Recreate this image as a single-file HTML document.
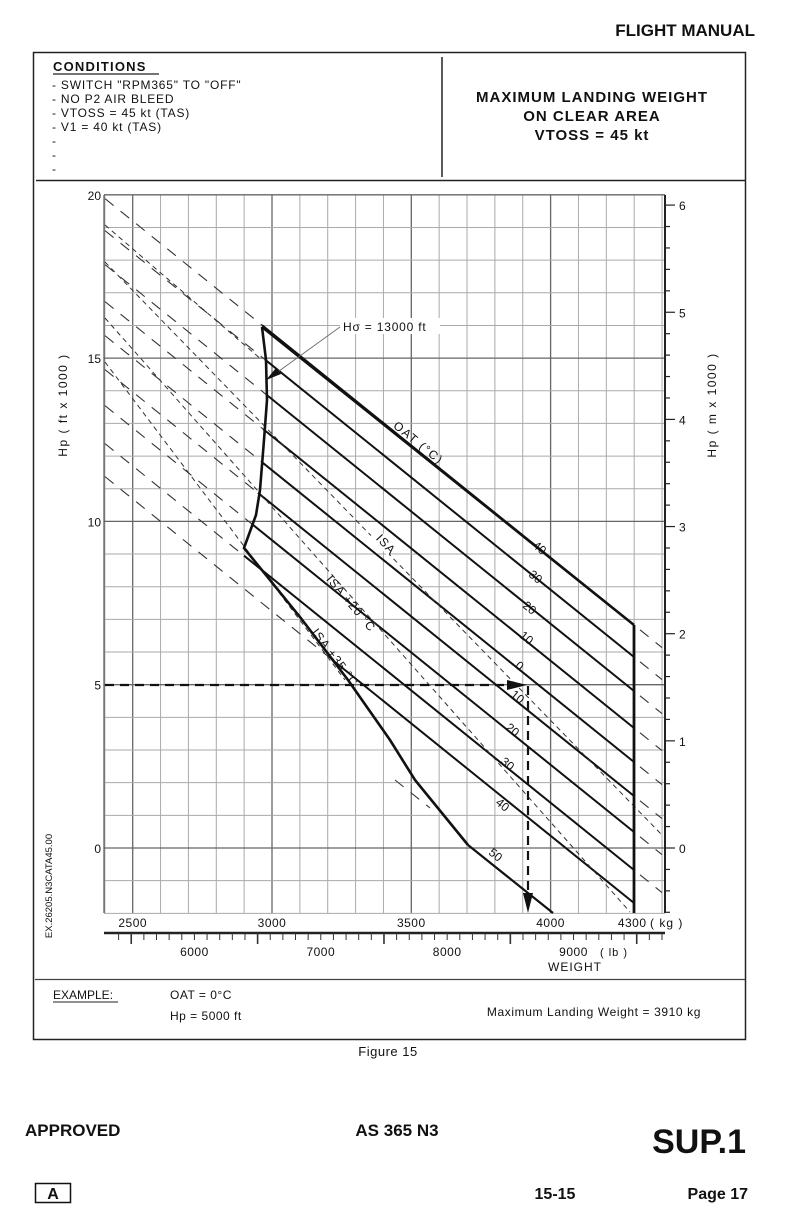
<!DOCTYPE html>
<html><head><meta charset="utf-8"><style>
body{margin:0;background:#fff;width:787px;height:1224px;overflow:hidden;font-family:"Liberation Sans",sans-serif;}
svg{position:absolute;left:0;top:0}
text{font-family:"Liberation Sans",sans-serif;fill:#111}
</style></head><body>
<svg id="s" width="787" height="1224" viewBox="0 0 787 1224" xmlns="http://www.w3.org/2000/svg">
<text x="755" y="36" font-size="17" font-weight="bold" text-anchor="end">FLIGHT MANUAL</text>
<rect x="33.5" y="52.5" width="712" height="987" fill="none" stroke="#222" stroke-width="1.5"/>
<line x1="442" y1="57" x2="442" y2="177" stroke="#222" stroke-width="1.5"/>
<line x1="36" y1="180.5" x2="745" y2="180.5" stroke="#222" stroke-width="1.5"/>
<text x="53" y="71" font-size="13" font-weight="bold" letter-spacing="1.2">CONDITIONS</text>
<line x1="53" y1="74" x2="159" y2="74" stroke="#222" stroke-width="1.2"/>
<g font-size="12" letter-spacing="0.8">
<text x="52" y="89">- SWITCH "RPM365" TO "OFF"</text>
<text x="52" y="103">- NO P2 AIR BLEED</text>
<text x="52" y="117">- VTOSS = 45 kt  (TAS)</text>
<text x="52" y="131">- V1 = 40 kt (TAS)</text>
<text x="52" y="145" fill="#777">-</text><text x="52" y="159" fill="#777">-</text><text x="52" y="173" fill="#777">-</text>
</g>
<g font-size="15" font-weight="bold" text-anchor="middle" letter-spacing="1">
<text x="592" y="102">MAXIMUM LANDING WEIGHT</text>
<text x="592" y="121">ON CLEAR AREA</text>
<text x="592" y="140">VTOSS = 45 kt</text>
</g>
<g id="grid"></g>
<g id="plot"></g>
<line x1="35" y1="979.5" x2="745" y2="979.5" stroke="#444" stroke-width="1.2"/>
<text x="53" y="999" font-size="12">EXAMPLE:</text>
<line x1="53" y1="1002" x2="118" y2="1002" stroke="#222"/>
<text x="170" y="999" font-size="12" letter-spacing="0.5">OAT = 0°C</text>
<text x="170" y="1020" font-size="12" letter-spacing="0.5">Hp = 5000 ft</text>
<text x="701" y="1016" font-size="12" text-anchor="end" letter-spacing="0.6">Maximum Landing Weight = 3910 kg</text>
<text x="388" y="1056" font-size="13" text-anchor="middle" letter-spacing="0.5">Figure 15</text>
<text x="25" y="1136" font-size="17" font-weight="bold">APPROVED</text>
<text x="397" y="1136" font-size="17" font-weight="bold" text-anchor="middle">AS 365 N3</text>
<text x="746" y="1153" font-size="34" font-weight="bold" text-anchor="end">SUP.1</text>
<rect x="35.5" y="1183.5" width="35" height="19" fill="none" stroke="#111" stroke-width="1.5"/>
<text x="53" y="1199" font-size="16" font-weight="bold" text-anchor="middle">A</text>
<text x="555" y="1199" font-size="16" font-weight="bold" text-anchor="middle">15-15</text>
<text x="748" y="1199" font-size="16" font-weight="bold" text-anchor="end">Page 17</text>
</svg>
<script>
var NS="http://www.w3.org/2000/svg";
function el(p,t,a,txt){var e=document.createElementNS(NS,t);for(var k in a)e.setAttribute(k,a[k]);if(txt!=null)e.textContent=txt;document.getElementById(p).appendChild(e);return e;}
function kx(k){return 272+(k-3000)*0.2786;}
function fy(h){return 848-h*32.66;}
function my(m){return 848-m*107.15;}
var L=104,R=665,T=195,B=913;
for(var k=2400;k<=4400;k+=100){var x=kx(k);var maj=(k%500==0);el("grid","line",{x1:x,y1:T,x2:x,y2:B,stroke:maj?"#666":"#aaa","stroke-width":maj?1.3:1});}
for(var h=-2;h<=20;h++){var y=fy(h);var maj=(h%5==0);el("grid","line",{x1:L,y1:y,x2:R,y2:y,stroke:maj?"#666":"#aaa","stroke-width":maj?1.3:1});}
el("grid","line",{x1:L,y1:T,x2:L,y2:B,stroke:"#555","stroke-width":1.2});
el("grid","line",{x1:R,y1:T,x2:R,y2:B,stroke:"#222","stroke-width":2});
[20,15,10,5,0].forEach(function(h){el("grid","text",{x:101,y:fy(h)+5,"font-size":12,"text-anchor":"end"},String(h));});
for(var m=-0.6;m<=6.01;m+=0.2){var y=my(m);if(y<T||y>B)continue;var mj=Math.abs(m-Math.round(m))<0.01;el("grid","line",{x1:R,y1:y,x2:R+(mj?10:5),y2:y,stroke:"#222","stroke-width":1.2});if(mj)el("grid","text",{x:679,y:y+5,"font-size":12},String(Math.round(m)));}
[[2500,"2500"],[3000,"3000"],[3500,"3500"],[4000,"4000"]].forEach(function(a){el("grid","text",{x:kx(a[0]),y:927,"font-size":12,"text-anchor":"middle","letter-spacing":"0.5"},a[1]);});
el("grid","text",{x:kx(4300)-2,y:927,"font-size":12,"text-anchor":"middle","letter-spacing":"0.5"},"4300");
el("grid","text",{x:650,y:927,"font-size":12,"letter-spacing":"1"},"( kg )");
el("grid","line",{x1:L,y1:933,x2:R,y2:933,stroke:"#222","stroke-width":2.5});
function lx(lb){return kx(lb*0.45359);}
for(var lb=5400;lb<=9700;lb+=100){var x=lx(lb);if(x<L||x>R)continue;var big=(lb%1000==500);el("grid","line",{x1:x,y1:933,x2:x,y2:big?944:940,stroke:"#333","stroke-width":big?1.6:1});}
[6000,7000,8000,9000].forEach(function(lb){el("grid","text",{x:lx(lb),y:956,"font-size":12,"text-anchor":"middle","letter-spacing":"0.5"},String(lb));});
el("grid","text",{x:600,y:956,"font-size":11,"letter-spacing":"1"},"( lb )");
el("grid","text",{x:575,y:971,"font-size":12,"text-anchor":"middle","letter-spacing":"1"},"WEIGHT");
el("grid","text",{x:0,y:0,"font-size":12,"text-anchor":"middle","letter-spacing":"1.5",transform:"translate(67,405) rotate(-90)"},"Hp ( ft x 1000 )");
el("grid","text",{x:0,y:0,"font-size":12,"text-anchor":"middle","letter-spacing":"1.5",transform:"translate(716,405) rotate(-90)"},"Hp ( m x 1000 )");
el("grid","text",{x:0,y:0,"font-size":9.5,"text-anchor":"middle",transform:"translate(52,886) rotate(-90)"},"EX.26205.N3CATA45.00");
var S=0.806;
var lines=[[262,327,625],[265,360,657],[266,394,691],[263,428,728],[262,460,762],[258,493,796],[252,524,832],[244,548,870],[333,660,903]];
lines.forEach(function(l){var yr=l[2];var x0=l[0],y0=yr-S*(634-x0);
 var xs=105,ys=y0-S*(x0-xs);if(ys<T){xs=x0-(y0-T)/S;ys=T;}
 el("plot","line",{x1:xs,y1:ys,x2:x0,y2:y0,stroke:"#333","stroke-width":1.1,"stroke-dasharray":"11,9"});
 el("plot","line",{x1:x0,y1:y0,x2:634,y2:yr,stroke:"#111","stroke-width":2});
 var ye=yr+S*(662-634);if(ye<=B)el("plot","line",{x1:640,y1:yr+S*6,x2:662,y2:ye,stroke:"#333","stroke-width":1.1,"stroke-dasharray":"11,9"});
});
el("plot","line",{x1:468,y1:845,x2:553,y2:913,stroke:"#111","stroke-width":2.2});
el("plot","line",{x1:395,y1:780,x2:430,y2:808,stroke:"#333","stroke-width":1.1,"stroke-dasharray":"11,9"});
el("plot","line",{x1:105,y1:262,x2:662,y2:835,stroke:"#333","stroke-width":1,"stroke-dasharray":"5,4"});
el("plot","line",{x1:105,y1:318,x2:630,y2:912,stroke:"#333","stroke-width":1,"stroke-dasharray":"5,4"});
el("plot","line",{x1:105,y1:225,x2:262,y2:360,stroke:"#333","stroke-width":1,"stroke-dasharray":"5,4"});
el("plot","line",{x1:105,y1:362,x2:345,y2:680,stroke:"#333","stroke-width":1,"stroke-dasharray":"5,4"});
el("plot","polyline",{points:"262,327 266,360 267,400 264,440 260,490 256,515 244,548 300,617 348,680 390,740 415,780 468,845",fill:"none",stroke:"#111","stroke-width":2.6});
el("plot","line",{x1:262,y1:327,x2:634,y2:625,stroke:"#111","stroke-width":2.6});
el("plot","line",{x1:634,y1:625,x2:634,y2:913,stroke:"#111","stroke-width":2.8});
var labs=[["40",537,551],["30",533,580],["20",527,611],["10",524,641],["0",517,669],["10",515,700],["20",510,733],["30",505,767],["40",500,808],["50",493,858]];
labs.forEach(function(a){el("plot","text",{x:0,y:0,"font-size":12,"text-anchor":"middle",transform:"translate("+a[1]+","+a[2]+") rotate(39)"},a[0]);});
el("plot","text",{x:0,y:0,"font-size":12,"text-anchor":"middle","letter-spacing":"1.5",transform:"translate(416,446) rotate(39)"},"OAT (°C)");
el("plot","rect",{x:370,y:536,width:26,height:12,fill:"#fff",transform:"rotate(47 383 542)"});
el("plot","text",{x:0,y:0,"font-size":12,"text-anchor":"middle","letter-spacing":"1",transform:"translate(383,547) rotate(47)"},"ISA");
el("plot","text",{x:0,y:0,"font-size":12,"text-anchor":"middle","letter-spacing":"1",transform:"translate(348,606) rotate(50)"},"ISA  +20 °C");
el("plot","text",{x:0,y:0,"font-size":12,"text-anchor":"middle","letter-spacing":"1",transform:"translate(332,660) rotate(53)"},"ISA  +35 °C");
el("plot","rect",{x:340,y:318,width:100,height:16,fill:"#fff"});
el("plot","text",{x:343,y:331,"font-size":12,"letter-spacing":"0.8"},"Hσ = 13000 ft");
el("plot","line",{x1:340,y1:327,x2:268,y2:379,stroke:"#666","stroke-width":0.8});
el("plot","polygon",{points:"266,380 281,374 276,368",fill:"#111"});
el("plot","line",{x1:105,y1:685,x2:512,y2:685,stroke:"#111","stroke-width":2.2,"stroke-dasharray":"9,6"});
el("plot","polygon",{points:"527,685 507,680 507,690",fill:"#111"});
el("plot","line",{x1:528,y1:686,x2:528,y2:898,stroke:"#111","stroke-width":2.2,"stroke-dasharray":"9,6"});
el("plot","polygon",{points:"528,913 523,893 533,893",fill:"#111"});
</script>
</body></html>
